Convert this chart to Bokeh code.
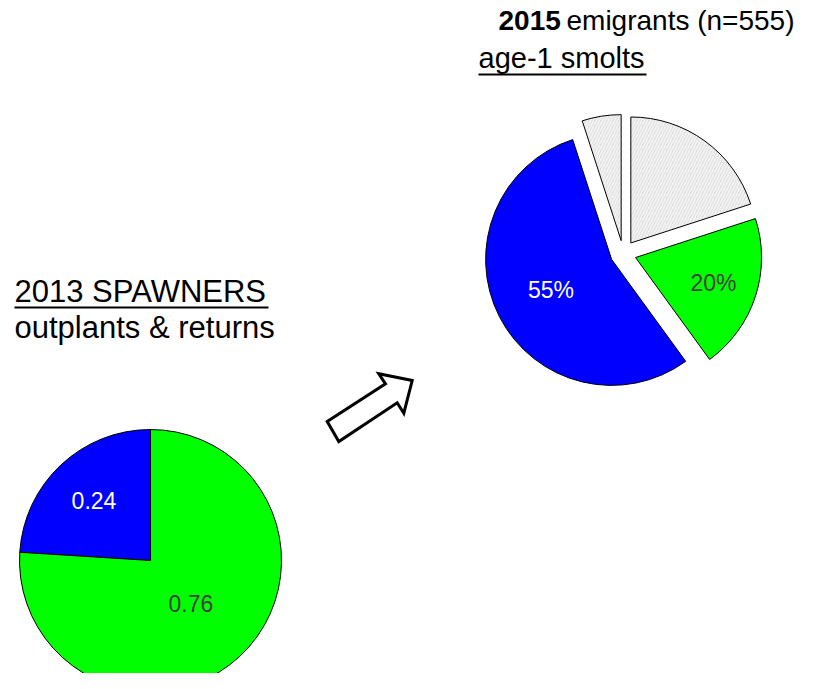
import math
from bokeh.plotting import figure
from bokeh.models import Range1d, ColumnDataSource
from bokeh.core.properties import value
from bokeh.embed import file_html
from bokeh.resources import INLINE

# ---------------- data ----------------
spawner_groups = ["returns", "outplants"]
spawner_shares = [0.24, 0.76]
spawner_labels = ["0.24", "0.76"]
spawner_colors = ["#0000ff", "#00ff00"]
spawner_label_colors = ["#ffffff", "#404040"]

emigrant_groups = ["unassigned", "outplants", "returns", "other"]
emigrant_pct = [20, 20, 55, 5]
emigrant_labels = ["", "20%", "55%", ""]
emigrant_colors = ["#dadada", "#00ff00", "#0000ff", "#dadada"]
emigrant_hatch = ["/", " ", " ", "/"]
emigrant_label_colors = ["#404040", "#404040", "#ffffff", "#404040"]

# ---------------- layout helpers (coordinates = reference pixels) ----------------
PW, PH = 803, 673
H = 689
def Y(ry):
    return H - ry

FONT = value("Liberation Sans")

p = figure(width=PW, height=PH, output_backend="svg", toolbar_location=None,
           x_range=Range1d(0, PW), y_range=Range1d(Y(PH), Y(0)),
           min_border=0, outline_line_color=None, background_fill_color="white")
p.axis.visible = False
p.grid.visible = False

# ---------------- left pie: 2013 spawners ----------------
lcx, lcy, lr = 150, Y(560), 131
l_start, l_end, l_lx, l_ly = [], [], [], []
acc = 0.0
l_frac = [0.63, 0.45]
for i, s in enumerate(spawner_shares):
    a0 = math.pi / 2 + acc * 2 * math.pi
    acc += s
    a1 = math.pi / 2 + acc * 2 * math.pi
    l_start.append(a0)
    l_end.append(a1)
    mid = (a0 + a1) / 2
    l_lx.append(lcx + l_frac[i] * lr * math.cos(mid))
    l_ly.append(lcy + l_frac[i] * lr * math.sin(mid))

lsrc = ColumnDataSource(dict(group=spawner_groups, start=l_start, end=l_end,
                             color=spawner_colors, lx=l_lx, ly=l_ly,
                             label=spawner_labels, lcol=spawner_label_colors))
p.wedge(x=lcx, y=lcy, radius=lr, start_angle="start", end_angle="end",
        direction="anticlock", fill_color="color", line_color="black",
        line_width=1, source=lsrc)
p.text(x="lx", y="ly", text="label", text_color="lcol", text_align="center",
       text_baseline="middle", text_font=FONT, text_font_size="23px", source=lsrc)

# ---------------- right pie: 2015 emigrants (exploded) ----------------
rcx, rcy, rr, explode = 622.7, Y(253), 126, 13
r_x, r_y, r_start, r_end, r_lx, r_ly = [], [], [], [], [], []
acc = 0.0
total = float(sum(emigrant_pct))
r_frac = [0.6, 0.65, 0.54, 0.6]
for i, v in enumerate(emigrant_pct):
    a0 = math.pi / 2 - acc / total * 2 * math.pi
    acc += v
    a1 = math.pi / 2 - acc / total * 2 * math.pi
    mid = (a0 + a1) / 2
    ox = rcx + explode * math.cos(mid)
    oy = rcy + explode * math.sin(mid)
    r_x.append(ox)
    r_y.append(oy)
    r_start.append(a0)
    r_end.append(a1)
    r_lx.append(ox + r_frac[i] * rr * math.cos(mid))
    r_ly.append(oy + r_frac[i] * rr * math.sin(mid))

rsrc = ColumnDataSource(dict(group=emigrant_groups, x=r_x, y=r_y, start=r_start,
                             end=r_end, color=emigrant_colors, hatch=emigrant_hatch,
                             lx=r_lx, ly=r_ly, label=emigrant_labels,
                             lcol=emigrant_label_colors))
p.wedge(x="x", y="y", radius=rr, start_angle="start", end_angle="end",
        direction="clock", fill_color="color", line_color="black", line_width=1,
        hatch_pattern="hatch", hatch_color="#f2f2f2", hatch_scale=6,
        hatch_weight=2, source=rsrc)
p.text(x="lx", y="ly", text="label", text_color="lcol", text_align="center",
       text_baseline="middle", text_font=FONT, text_font_size="23px", source=rsrc)

# ---------------- titles ----------------
def title(x, ry, txt, size, bold=False):
    p.text(x=[x], y=[Y(ry)], text=[txt], text_font=FONT,
           text_font_style="bold" if bold else "normal",
           text_font_size=size, text_color="black", text_baseline="middle")

title(14, 291, "2013 SPAWNERS", "31px")
p.segment(x0=[14], y0=[Y(307)], x1=[268], y1=[Y(307)], line_color="black", line_width=2)
title(14, 327, "outplants & returns", "31px")

title(498, 20, "2015", "28px", bold=True)
title(566, 20, "emigrants (n=555)", "28px")
title(478, 57, "age-1 smolts", "29px")
p.segment(x0=[478], y0=[Y(74)], x1=[646], y1=[Y(74)], line_color="black", line_width=2)

# ---------------- block arrow ----------------
arrow_x = [326.7, 338.3, 396.7, 403.3, 411.7, 378.3, 385.0]
arrow_y = [Y(v) for v in [421.0, 441.0, 402.3, 412.7, 380.0, 373.3, 383.3]]
p.patch(arrow_x, arrow_y, fill_color="white", line_color="black", line_width=3,
        line_join="miter")

open("out.html", "w").write(file_html(p, INLINE))
